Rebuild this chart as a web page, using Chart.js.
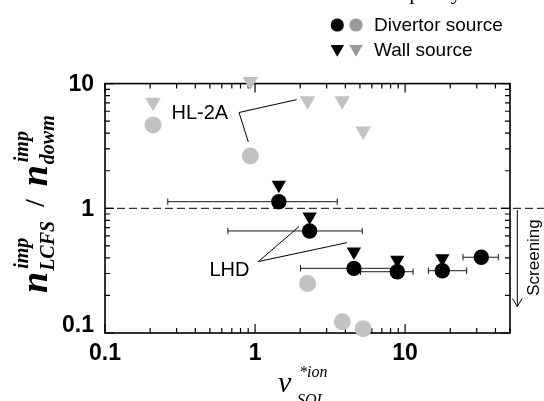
<!DOCTYPE html>
<html><head><meta charset="utf-8">
<script src="https://cdn.jsdelivr.net/npm/chart.js@4.4.0/dist/chart.umd.min.js"></script>
<style>html,body{margin:0;padding:0;background:#fff;overflow:hidden}#wrap{width:544px;height:401px;position:relative}</style>
</head><body><div id="wrap"><canvas id="c" width="544" height="401"></canvas></div>
<script>
// ---- data ----
const hl2aNu       = [0.209, 0.93, 2.24, 3.81, 5.25];
const hl2aDivertor = [4.66, 2.63, 0.249, 0.123, 0.108];
const hl2aWall     = [7.08, 10.4, 7.3, 7.3, 4.17];

const lhdNu        = [1.44, 2.31, 4.56, 8.87, 17.7, 32.2];
const lhdDivertor  = [1.13, 0.658, 0.330, 0.310, 0.316, 0.405];
const lhdWall      = [1.54, 0.857, 0.449, 0.385, 0.397, null];
const lhdNuLow     = [0.262, 0.659, 2.01, 5.05, 14.3, 24.3];
const lhdNuHigh    = [3.53, 5.18, 8.64, 11.3, 25.7, 41.8];

const xTickLabels = ['0.1', '1', '10'];
const yTickLabels = ['0.1', '1', '10'];
const xRange = [0.1, 50];
const yRange = [0.1, 10];
const screeningLevel = 1;

const legendLabels = ['Divertor source', 'Wall source'];

// ---- styles ----
const BLACK = '#000000';
const GRAY = '#c2c2c2';
const LEG_GRAY = '#9a9a9a';
const SANS = '"Liberation Sans", Arial, sans-serif';
const SERIF = '"Liberation Serif", "Times New Roman", serif';

function pts(xs, ys) {
  return xs.map((x, i) => ({x: x, y: ys[i]})).filter(p => p.y !== null);
}

const markerSets = [
  {data: pts(lhdNu, lhdWall), pointStyle: 'triangle', pointRotation: 180, pointRadius: 8.3, backgroundColor: BLACK},
  {data: pts(lhdNu, lhdDivertor), pointStyle: 'circle', pointRadius: 7.7, backgroundColor: BLACK},
  {data: pts(hl2aNu, hl2aWall), pointStyle: 'triangle', pointRotation: 180, pointRadius: 9, backgroundColor: GRAY},
  {data: pts(hl2aNu, hl2aDivertor), pointStyle: 'circle', pointRadius: 8.5, backgroundColor: GRAY}
].map(d => Object.assign({borderWidth: 0, pointBorderWidth: 0, pointHoverRadius: d.pointRadius, clip: false, order: 0, showLine: false}, d));

const errSets = lhdNu.map((x, i) => ({
  data: [{x: lhdNuLow[i], y: lhdDivertor[i]}, {x: lhdNuHigh[i], y: lhdDivertor[i]}],
  showLine: true, borderColor: '#1a1a1a', borderWidth: 1,
  pointStyle: 'line', pointRotation: 90, pointRadius: 3.2, pointBorderWidth: 1,
  pointBorderColor: '#1a1a1a', backgroundColor: '#1a1a1a', order: 1, clip: false
}));

function logTicks(min, max) {
  const out = [];
  for (let e = Math.floor(Math.log10(min)); e <= Math.ceil(Math.log10(max)); e++) {
    for (let m = 1; m <= 9; m++) {
      const v = m * Math.pow(10, e);
      if (v >= min * 0.999 && v <= max * 1.001) out.push({v: v, major: m === 1});
    }
  }
  return out;
}

const deco = {
  id: 'deco',
  beforeDatasetsDraw(chart) {
    const {ctx, chartArea: a, scales: {x, y}} = chart;
    ctx.save();
    const yr = y.getPixelForValue(screeningLevel);
    ctx.strokeStyle = BLACK; ctx.lineWidth = 1; ctx.setLineDash([8, 4]);
    ctx.beginPath(); ctx.moveTo(a.left, yr); ctx.lineTo(chart.width, yr); ctx.stroke();
    ctx.setLineDash([]);
    ctx.lineWidth = 1.2;
    logTicks(xRange[0], xRange[1]).forEach(t => {
      const px = x.getPixelForValue(t.v), L = t.major ? 9 : 5;
      ctx.beginPath();
      ctx.moveTo(px, a.bottom); ctx.lineTo(px, a.bottom - L);
      ctx.moveTo(px, a.top); ctx.lineTo(px, a.top + L);
      ctx.stroke();
    });
    logTicks(yRange[0], yRange[1]).forEach(t => {
      const py = y.getPixelForValue(t.v), L = t.major ? 9 : 5;
      ctx.beginPath();
      ctx.moveTo(a.left, py); ctx.lineTo(a.left + L, py);
      ctx.moveTo(a.right, py); ctx.lineTo(a.right - L, py);
      ctx.stroke();
    });
    ctx.lineWidth = 1.6;
    ctx.strokeRect(a.left, a.top, a.right - a.left, a.bottom - a.top);
    ctx.lineWidth = 1;
    const hx = x.getPixelForValue(hl2aNu[2]), hy = y.getPixelForValue(hl2aWall[2]);
    const gx = x.getPixelForValue(hl2aNu[1]), gy = y.getPixelForValue(hl2aDivertor[1]);
    ctx.beginPath();
    ctx.moveTo(hx - 11, hy - 1); ctx.lineTo(239, 112.5); ctx.lineTo(gx - 2, gy - 14);
    ctx.stroke();
    const lx = x.getPixelForValue(lhdNu[1]), ly = y.getPixelForValue(lhdDivertor[1]);
    const tx = x.getPixelForValue(lhdNu[2]), ty = y.getPixelForValue(lhdWall[2]);
    ctx.beginPath();
    ctx.moveTo(lx - 10.5, ly - 4.5); ctx.lineTo(258.5, 261.5); ctx.lineTo(tx - 7, ty - 9);
    ctx.stroke();
    ctx.beginPath();
    ctx.moveTo(517.3, 210); ctx.lineTo(517.3, 306.5);
    ctx.moveTo(512.5, 298.5); ctx.lineTo(517.3, 306.5); ctx.lineTo(522.1, 298.5);
    ctx.stroke();
    ctx.restore();
  },
  afterDatasetsDraw(chart) {
    const {ctx, chartArea: a, scales: {x, y}} = chart;
    ctx.save();
    ctx.fillStyle = BLACK;
    ctx.font = 'bold 23px ' + SANS;
    ctx.textAlign = 'center'; ctx.textBaseline = 'middle';
    xTickLabels.forEach(s => ctx.fillText(s, x.getPixelForValue(parseFloat(s)), 353.5));
    ctx.textAlign = 'right';
    yTickLabels.forEach(s => {
      const v = parseFloat(s);
      let py = y.getPixelForValue(v) + 1.5;
      if (v === yRange[0]) py = a.bottom - 7.5;
      ctx.fillText(s, 94, py);
    });
    ctx.font = '20px ' + SANS; ctx.textAlign = 'left'; ctx.textBaseline = 'middle';
    ctx.fillText('HL-2A', 171.5, 113.5);
    ctx.fillText('LHD', 209.5, 270.5);
    const H = Chart.helpers;
    H.drawPoint(ctx, {pointStyle: 'circle', radius: 6.6, borderWidth: 0}, 337.3, 25);
    ctx.fillStyle = LEG_GRAY;
    H.drawPoint(ctx, {pointStyle: 'circle', radius: 6.6, borderWidth: 0}, 356, 25);
    ctx.fillStyle = BLACK;
    H.drawPoint(ctx, {pointStyle: 'triangle', rotation: 180, radius: 7.8, borderWidth: 0}, 337.3, 49);
    ctx.fillStyle = LEG_GRAY;
    H.drawPoint(ctx, {pointStyle: 'triangle', rotation: 180, radius: 7.8, borderWidth: 0}, 356, 49);
    ctx.fillStyle = BLACK;
    ctx.font = '19px ' + SANS;
    ctx.fillText(legendLabels[0], 374, 25.5);
    ctx.fillText(legendLabels[1], 374, 50.5);
    ctx.font = '22px ' + SERIF; ctx.textBaseline = 'alphabetic';
    ctx.fillText('impurity', 386, -1);
    ctx.save();
    ctx.translate(534, 257.5); ctx.rotate(-Math.PI / 2);
    ctx.font = '17px ' + SANS; ctx.textAlign = 'center'; ctx.textBaseline = 'middle';
    ctx.fillText('Screening', 0, 0);
    ctx.restore();
    ctx.textAlign = 'left'; ctx.textBaseline = 'alphabetic';
    ctx.font = 'italic 30px ' + SERIF;
    ctx.fillText('\u03bd', 278, 392);
    ctx.font = '16px ' + SERIF; ctx.fillText('*', 300, 377);
    ctx.font = 'italic 16px ' + SERIF; ctx.fillText('ion', 307, 377);
    ctx.fillText('SOL', 297, 405);
    // y title
    ctx.save();
    ctx.translate(47, 293); ctx.rotate(-Math.PI / 2);
    let u = 0;
    const big = 'italic bold 38px ' + SERIF, small = 'italic bold 20px ' + SERIF;
    ctx.font = big; ctx.fillText('n', u, 0); u += ctx.measureText('n').width + 1;
    ctx.font = small; ctx.fillText('LCFS', u, 7);
    let w1 = ctx.measureText('LCFS').width;
    ctx.fillText('imp', u + 2, -19);
    u += w1 + 14;
    ctx.font = 'bold 27px ' + SERIF; ctx.fillText('/', u, -3); u += ctx.measureText('/').width + 13;
    ctx.font = big; ctx.fillText('n', u, 0); u += ctx.measureText('n').width + 1;
    ctx.font = small; ctx.fillText('dowm', u, 7); ctx.fillText('imp', u + 2, -19);
    ctx.restore();
    ctx.restore();
  }
};

new Chart(document.getElementById('c'), {
  type: 'scatter',
  data: {datasets: markerSets.concat(errSets)},
  options: {
    responsive: false, maintainAspectRatio: false, devicePixelRatio: 1, animation: false, events: [],
    layout: {padding: {left: 105, right: 34, top: 83.6, bottom: 68}},
    plugins: {legend: {display: false}, tooltip: {enabled: false}},
    scales: {
      x: {type: 'logarithmic', min: xRange[0], max: xRange[1], display: false},
      y: {type: 'logarithmic', min: yRange[0], max: yRange[1], display: false}
    }
  },
  plugins: [deco]
});
</script>
</body></html>
